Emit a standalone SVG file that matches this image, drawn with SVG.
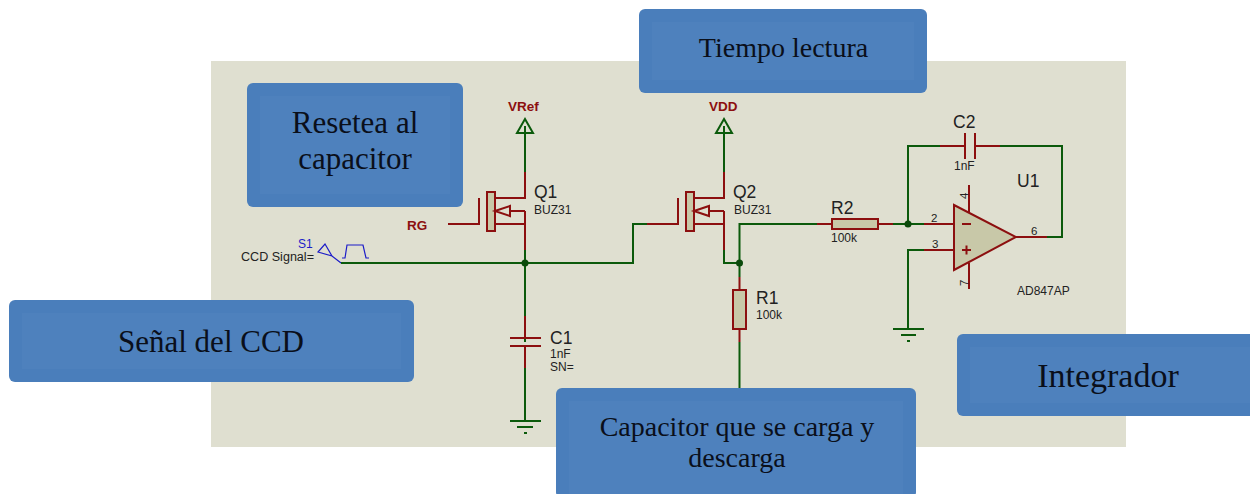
<svg xmlns="http://www.w3.org/2000/svg" width="1250" height="494" viewBox="0 0 1250 494">
<style>
.w{fill:none;stroke:#0b5a0b;stroke-width:2}
.r{fill:none;stroke:#8c0f0f;stroke-width:2}
.b{fill:#c8c8a8;stroke:#8c0f0f;stroke-width:2}
.l{font-family:"Liberation Sans",Arial,sans-serif;fill:#222}
.big{font-size:17.500px}
.small{font-size:12px}
.pin{font-size:11.500px}
.p{font-family:"Liberation Sans",Arial,sans-serif;font-weight:bold;fill:#8c0f0f;font-size:13.500px}
.box{fill:#4a7ebb}
.inner{fill:#4e81bd}
.t{font-family:"Liberation Serif","Times New Roman",serif;fill:#0a0f1a;text-anchor:middle}
.dot{fill:#0b4a0b}
</style>
<rect id="panel" x="211" y="61" width="915" height="386" fill="#dfdfd0"/>
<g id="connectors">
<path class="w" d="M525 172V126M525 250V342M525 368V421"/>
<path class="w" d="M341 263H633V224H647"/>
<path class="w" d="M724 172V126"/>
<path class="w" d="M724 250V263H739.500"/>
<path class="w" d="M739.500 277V224H817"/>
<path class="w" d="M739.500 342V390"/>
<path class="w" d="M893 224H924"/>
<path class="w" d="M924 250H908V329"/>
<path class="w" d="M908 224V146H940"/>
<path class="w" d="M1000 146H1062V237H1047"/>
</g>
<g id="vref">
<path class="w" d="M525 119L533 133H517Z"/>
<text class="p" x="508" y="111">VRef</text>
</g>
<g id="vdd">
<path class="w" d="M724 119L732 133H716Z"/>
<text class="p" x="709" y="111">VDD</text>
</g>
<g id="Q1">
<path class="r" d="M525 172V198H495M495 224H525M525 211V250M448 224H479V198"/>
<rect class="b" x="487" y="192" width="8" height="39"/>
<path class="r" d="M495 211L510 206V216ZM510 211H525"/>
<text class="l big" x="534" y="198">Q1</text>
<text class="l small" x="534" y="214">BUZ31</text>
</g>
<text class="p" id="RG" x="407" y="230">RG</text>
<g id="Q2">
<path class="r" d="M724 172V198H694M694 224H724M724 211V250M647 224H678V198"/>
<rect class="b" x="686" y="192" width="8" height="39"/>
<path class="r" d="M694 211L709 206V216ZM709 211H724"/>
<text class="l big" x="733" y="198">Q2</text>
<text class="l small" x="734" y="214">BUZ31</text>
</g>
<g id="S1">
<path d="M341 263L332 256L318 252L325 244L332 256M342 258H345L347 245H363L366 258H369" fill="none" stroke="#1c1cc8" stroke-width="1.200"/>
<text x="298" y="248" font-family="Liberation Sans,Arial,sans-serif" font-size="12" fill="#1c1cc8">S1</text>
<text class="l" x="241" y="261" font-size="12" textLength="73" lengthAdjust="spacingAndGlyphs">CCD Signal=</text>
</g>
<g id="C1">
<path class="r" d="M525 316V338M510 338H541M510 346H541M525 346V368"/>
<text class="l big" x="550" y="344">C1</text>
<text class="l small" x="550" y="358">1nF</text>
<text class="l small" x="550" y="371">SN=</text>
</g>
<g id="gnd1">
<path class="w" d="M510 421H541M517 427H533M524 433H527"/>
</g>
<g id="R1">
<path class="r" d="M739.500 277V342"/>
<rect class="b" x="733" y="290" width="13" height="39"/>
<text class="l big" x="756" y="304">R1</text>
<text class="l small" x="756" y="319">100k</text>
</g>
<g id="R2">
<path class="r" d="M817 224H893"/>
<rect class="b" x="832" y="219" width="46" height="10"/>
<text class="l big" x="831" y="214">R2</text>
<text class="l small" x="831" y="242">100k</text>
</g>
<g id="C2">
<path class="r" d="M940 146H965M965 133V159M975 133V159M975 146H1000"/>
<text class="l big" x="953" y="128">C2</text>
<text class="l small" x="954" y="170">1nF</text>
</g>
<g id="U1">
<path class="r" d="M969 185V212M969 263V289M924 224H954M924 250H954M1015 237H1047"/>
<path class="b" d="M954 205L1016 237L954 270Z"/>
<path class="r" d="M962 224H971M962 250H971M966.500 245.500V254.500"/>
<text class="l big" x="1017" y="187">U1</text>
<text class="l pin" x="931" y="222">2</text>
<text class="l pin" x="932" y="248">3</text>
<text class="l pin" x="1031" y="235">6</text>
<text class="l pin" transform="translate(968 199) rotate(-90)">4</text>
<text class="l pin" transform="translate(968 286) rotate(-90)">7</text>
<text class="l small" x="1017" y="295">AD847AP</text>
</g>
<g id="gnd2">
<path class="w" d="M893 329H924M901 335H916M907 341H910"/>
</g>
<g id="junctions">
<circle class="dot" cx="525" cy="263" r="3.500"/>
<circle class="dot" cx="739.500" cy="263" r="3.500"/>
<circle class="dot" cx="908" cy="224" r="3.500"/>
</g>
<g id="box-resetea">
<rect class="box" x="247" y="83" width="216" height="124" rx="6"/>
<rect class="inner" x="260" y="96" width="190" height="98"/>
<text class="t" x="355" y="133" font-size="31">Resetea al</text>
<text class="t" x="355" y="169" font-size="31">capacitor</text>
</g>
<g id="box-tiempo">
<rect class="box" x="639" y="9" width="288" height="84" rx="6"/>
<rect class="inner" x="652" y="22" width="262" height="58"/>
<text class="t" x="783.500" y="57" font-size="28">Tiempo lectura</text>
</g>
<g id="box-senal">
<rect class="box" x="9" y="300" width="405" height="82" rx="6"/>
<rect class="inner" x="22" y="313" width="379" height="56"/>
<text class="t" x="211" y="352" font-size="31">Señal del CCD</text>
</g>
<g id="box-integrador">
<rect class="box" x="957" y="334" width="300" height="82" rx="6"/>
<rect class="inner" x="970" y="347" width="280" height="56"/>
<text class="t" x="1108" y="387" font-size="34">Integrador</text>
</g>
<g id="box-capacitor">
<rect class="box" x="556" y="388" width="360" height="110" rx="6"/>
<rect class="inner" x="569" y="401" width="334" height="93"/>
<text class="t" x="737" y="436" font-size="28">Capacitor que se carga y</text>
<text class="t" x="737" y="467" font-size="28">descarga</text>
</g>
</svg>
